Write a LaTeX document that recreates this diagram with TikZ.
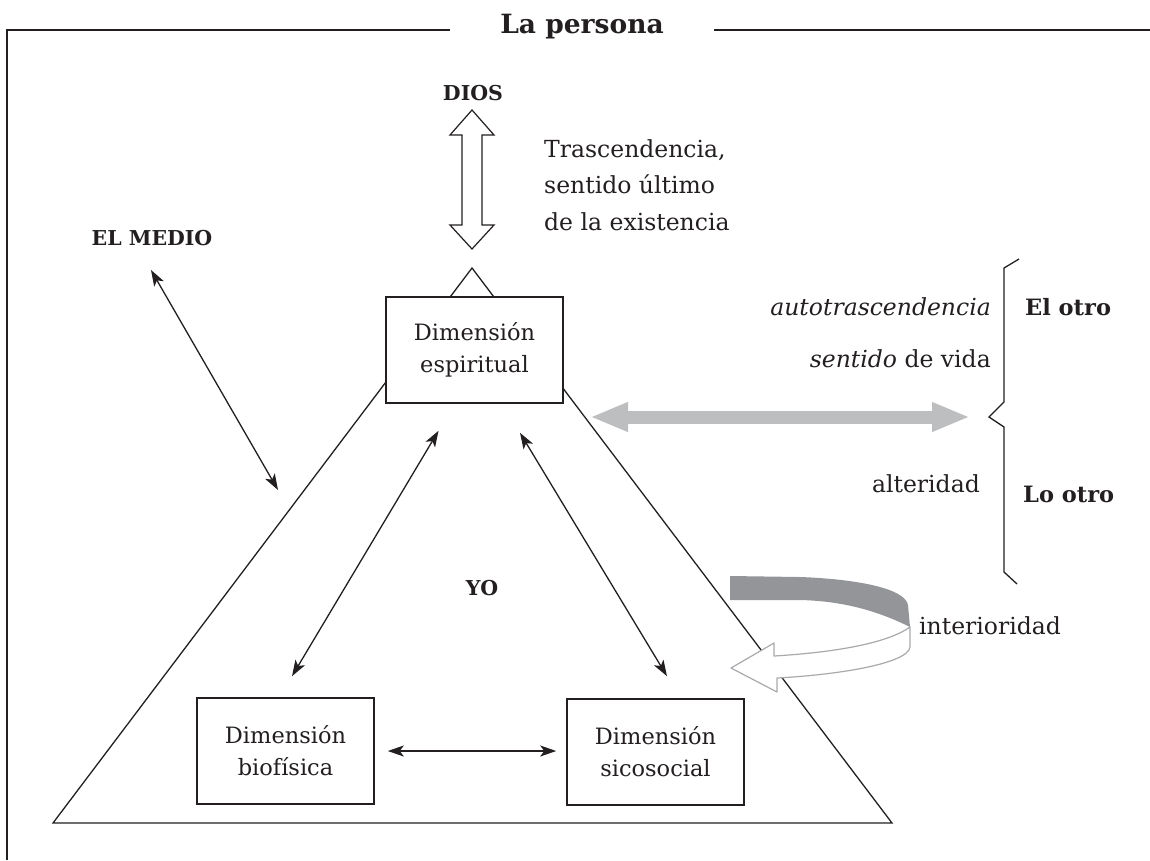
\documentclass[tikz,border=0pt]{standalone}
\usepackage{fontspec}
\setmainfont{DejaVu Serif}
\usepackage{tikz}
\usetikzlibrary{arrows.meta}

\definecolor{tinta}{HTML}{231F20}
\definecolor{grisclaro}{HTML}{BCBEC0}
\definecolor{grisbanda}{HTML}{939598}
\definecolor{grisborde}{HTML}{A7A9AC}

\begin{document}
\begin{tikzpicture}[
			x=1pt, y=-1pt,
			every node/.style={
					inner sep=0pt,
					text=tinta,
					font=\fontsize{23.5}{32}\selectfont
				},
			dimension/.style={
					draw=tinta,
					line width=1.6pt,
					fill=white,
					align=center,
					font=\fontsize{22.5}{32}\selectfont,
					minimum width=177pt,  % same size for the three boxes
					minimum height=106pt
				},
			etiqueta/.style={font=\fontsize{20.5}{24}\selectfont\bfseries},
			linea/.style={draw=tinta, line width=1.3pt},
			flecha/.style={<->, >={Stealth[length=16pt, width=11pt, inset=4pt]}, line width=1.3pt, draw=tinta}
		]
		\useasboundingbox (0,0) rectangle (1150,860);

		% frame with the title on its top line
		\draw[linea, line width=1.2pt] (7,860) -- (7,30) -- (1150,30);
		\node[fill=white, inner xsep=50pt, inner ysep=4pt, font=\fontsize{26.5}{30}\selectfont\bfseries] (ntitulo) at (582,27) {La persona};

		% the big triangle, its apex shows above the top box
		\coordinate (vertice) at (472,268);
		\draw[linea] (vertice) -- (892,823) -- (53,823) -- cycle;

		% interioridad: ribbon turning back on itself
		\fill[grisbanda] (730,576) -- (800,577) .. controls (855,579) and (905,588) .. (908,605) -- (910,627)
		.. controls (880,612) and (845,601) .. (800,600) -- (730,600) -- cycle;
		\draw[grisborde, line width=1.2pt, fill=white, line join=round] (910,627)
		.. controls (885,645) and (825,653) .. (774,656) -- (774,643) -- (731,668) -- (777,692) -- (777,678)
		.. controls (835,675) and (908,664) .. (910,647) -- cycle;

		\node[dimension] (nesp) at (474.5,350) {Dimensión\\espiritual};
		\node[dimension] (nbio) at (285.5,751) {Dimensión\\biofísica};
		\node[dimension] (nsico) at (655.5,752) {Dimensión\\sicosocial};

		\node[etiqueta] (ndios) at (473,93) {DIOS};
		\node[etiqueta] (nmedio) at (152,238) {EL MEDIO};
		\node[etiqueta] (nyo) at (482,588) {YO};
		\node[etiqueta, anchor=base west, font=\fontsize{22.5}{24}\selectfont\bfseries] (nelotro) at (1025,315) {El otro};
		\node[etiqueta, anchor=base west, font=\fontsize{22.5}{24}\selectfont\bfseries] (nlootro) at (1023,502) {Lo otro};

		\node[align=left, anchor=north west, font=\fontsize{23.5}{36.5}\selectfont] (ntrasc) at (544,139)
		{Trascendencia,\\sentido último\\de la existencia};
		\node[anchor=base east] (nauto) at (991,315) {\itshape autotrascendencia};
		\node[anchor=base east] (nsentido) at (991,367) {\textit{sentido} de vida};
		\node[anchor=base east] (nalter) at (980,492) {alteridad};
		\node[anchor=base west] (ninter) at (919,634) {interioridad};

		% hollow double arrow under DIOS
		\draw[linea, line width=1.2pt, fill=white]
		(472,110) -- (494,135) -- (482,135) -- (482,225) -- (494,225) -- (472,249)
		-- (450,225) -- (462,225) -- (462,135) -- (450,135) -- cycle;

		% brace for El otro / Lo otro
		\coordinate (nllave) at (989,417);
		\draw[linea] (1019,259) -- (1004,268) -- (1004,402) -- (nllave) -- (1004,427) -- (1004,572) -- (1017,584);

		\coordinate (pgris) at (590,417);
		\draw[grisclaro, line width=13pt, {Triangle[length=38pt, width=27pt]}-{Triangle[length=38pt, width=27pt]}]
		(pgris) -- ([xshift=-19]nllave);

		\coordinate (ptomedio) at (278,490);
		\draw[flecha] ([shift={(-1,32)}]nmedio.center) -- (ptomedio);
		\draw[flecha] ([shift={(-36,27)}]nesp.south) -- ([shift={(6.5,-21)}]nbio.north);
		\draw[flecha] ([shift={(45.5,29)}]nesp.south) -- ([shift={(11.5,-22)}]nsico.north);
		\draw[flecha, shorten <=13pt, shorten >=10pt] (nbio.east) -- (nbio.east -| nsico.west);

	\end{tikzpicture}
\end{document}
